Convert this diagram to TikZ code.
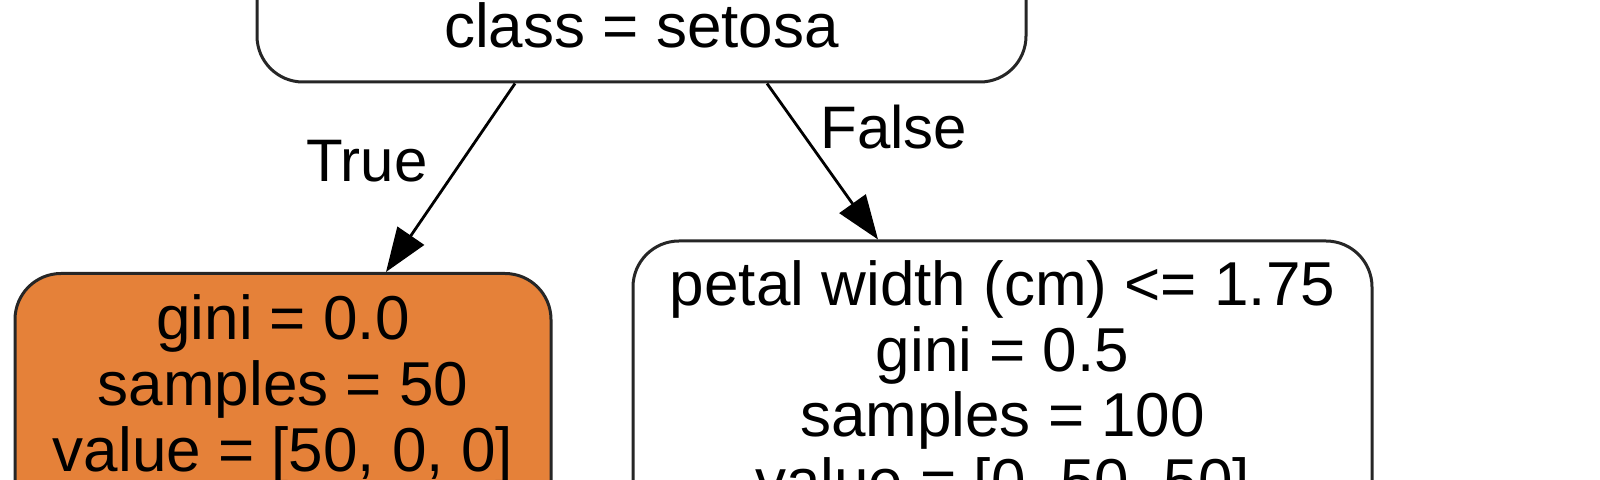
\documentclass[tikz,border=0pt]{standalone}
\usepackage{fontspec}
\setmainfont{Liberation Sans}
\usetikzlibrary{arrows.meta}
\definecolor{leafA}{HTML}{E58139}
\tikzset{
 box/.style={draw=black!85, line width=1.5pt, rounded corners=23pt, inner sep=0pt},
 txt/.style={anchor=base, inner sep=0pt, font=\fontsize{31}{32.5}\selectfont},
 edge/.style={draw=black, line width=1.4pt, -{Triangle[length=22pt,width=16pt]}},
 lbl/.style={anchor=base, inner sep=0pt, font=\fontsize{30}{32}\selectfont}
}
\begin{document}
\begin{tikzpicture}[x=0.5pt,y=-0.5pt]
\useasboundingbox (0,0) rectangle (1600,480);
\clip (0,0) rectangle (1600,480);
% shapes
\node[box, fill=white, minimum width=384.5pt, minimum height=141pt] (root) at (641.5,-59) {};
\node[box, fill=leafA, minimum width=268pt, minimum height=163.25pt] (left) at (283,436.75) {};
\node[box, fill=white, minimum width=369.5pt, minimum height=229.5pt] (right) at (1002.5,470.5) {};
% texts
\node[txt] (rootC) at (641.5,48) {class = setosa};
\node[txt] (l1) at (283,340) {gini = 0.0};
\node[txt] (l2) at (283,405.5) {samples = 50};
\node[txt] (l3) at (283,471) {value = [50, 0, 0]};
\node[txt] (r1) at (1002.5,306) {petal width (cm) <= 1.75};
\node[txt] (r2) at (1002.5,371.5) {gini = 0.5};
\node[txt] (r3) at (1002.5,437) {samples = 100};
\node[txt] (r4) at (1002.5,502.5) {value = [0, 50, 50]};
% edges
\draw[edge] ([xshift=-63.25pt]root.south) -- ([xshift=51.5pt]left.north);
\draw[edge] ([xshift=62.75pt]root.south) -- ([xshift=-62.25pt]right.north);
\node[lbl] (tl) at (367,182) {True};
\node[lbl] (fl) at (894,149) {False};
\end{tikzpicture}
\end{document}
